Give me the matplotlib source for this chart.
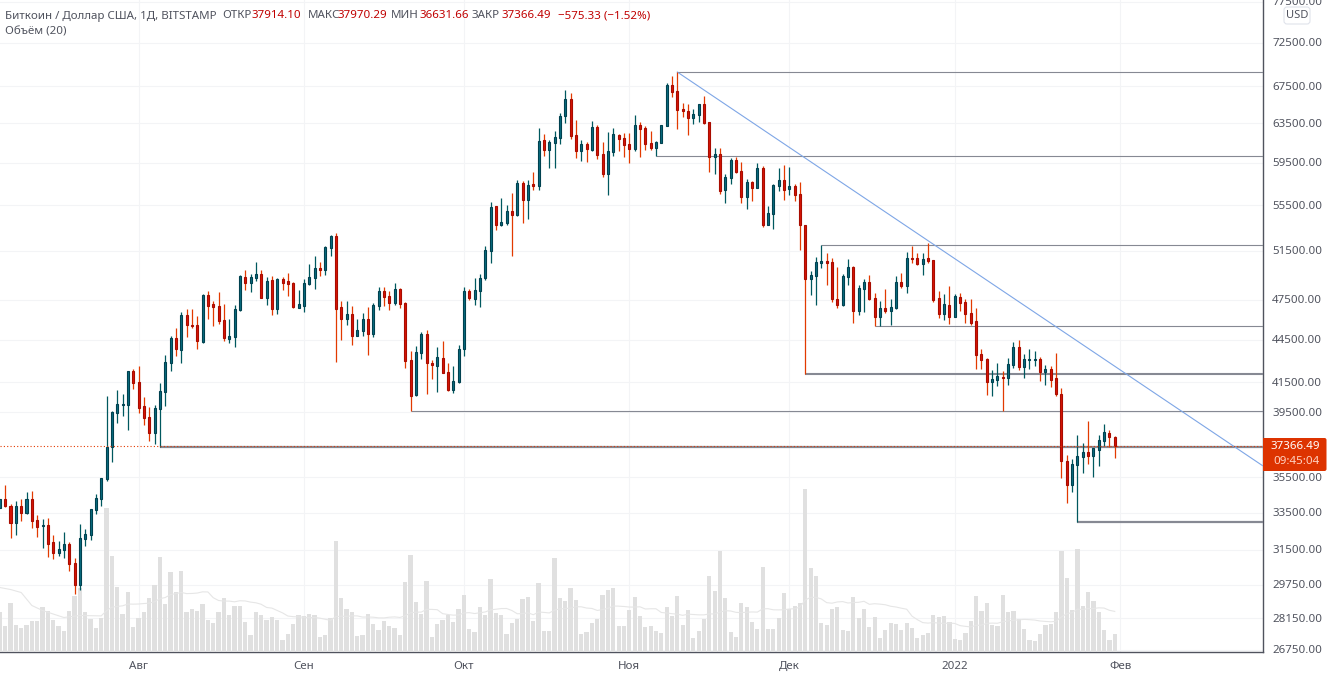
import matplotlib
matplotlib.use("Agg")
import matplotlib.pyplot as plt
from matplotlib.patches import FancyBboxPatch, Rectangle
from matplotlib.transforms import ScaledTranslation
import numpy as np
import pandas as pd

plt.rcParams["font.family"] = ["Noto Sans", "DejaVu Sans"]

# BTC/USD daily bars, Jul 6 2021 - Jan 31 2022
# x position is days since Aug 1
firstDay = -26

opens = [
    33670, 34170, 33800, 32850, 33800, 33430, 34170, 33030, 32690, 32740,
    31840, 31300, 31420, 31735, 30760, 29700, 32030, 32240, 33590, 34200,
    35345, 37220, 39360, 39920, 39920, 42170, 41410, 39810, 39095, 38085,
    39655, 40780, 42770, 44540, 43690, 46235, 45500, 45480, 44270, 47780,
    47100, 46920, 45877, 44490, 44640, 46660, 49215, 48780, 49180, 49460,
    47590, 48970, 46740, 49050, 48890, 48730, 46815, 46970, 48700, 49180,
    49945, 49830, 51665, 52670, 46850, 45975, 46310, 44710, 45080, 45930,
    44855, 46970, 48095, 47700, 47180, 48250, 47155, 42935, 40575, 43480,
    44810, 42750, 42540, 43100, 42120, 40890, 41430, 43720, 48115, 47510,
    48140, 49155, 51410, 55330, 53630, 53805, 54875, 54520, 57460, 55877,
    57365, 57180, 61667, 60662, 61365, 61870, 64150, 65965, 62180, 60560,
    61265, 60662, 63000, 60265, 58315, 60460, 62180, 61870, 61265, 60760,
    63210, 62895, 61365, 60860, 61365, 63105, 67500, 66840, 64890, 64680,
    63940, 64255, 65430, 63520, 59970, 60265, 56803, 57935, 59673, 58605,
    56155, 57555, 56990, 58895, 53630, 54610, 57180, 57744, 56895, 57180,
    56430, 53630, 49075, 49345, 50410, 50550, 50465, 47490, 47025, 49260,
    50050, 46560, 48300, 48830, 47565, 46105, 46790, 46560, 46790, 48830,
    48510, 50800, 50800, 50300, 50800, 50630, 47565, 46355, 47025, 46130,
    47645, 47255, 46410, 45800, 43385, 43030, 41430, 41569, 41775, 41710,
    42610, 43885, 42470, 42958, 42958, 43030, 42120, 42330, 41710, 40625,
    36390, 34985, 36150, 36630, 36930, 36690, 37053, 37605, 38100,
]
highs = [
    34170, 34980, 33910, 34075, 34170, 34585, 34640, 33300, 33080, 33135,
    32225, 31890, 32365, 31855, 31030, 32815, 32540, 33630, 34450, 35370,
    40490, 39505, 40890, 40630, 42190, 42330, 42540, 40425, 39765, 39900,
    41365, 43310, 44665, 45280, 46460, 46715, 46715, 46160, 47880, 48115,
    47330, 48040, 47100, 45950, 47025, 49400, 49805, 49480, 50465, 49805,
    49235, 49315, 49130, 49235, 49560, 48810, 48195, 49070, 50300, 50965,
    50465, 51810, 52725, 52900, 47330, 47330, 46945, 45950, 46410, 46870,
    47180, 48435, 48435, 48115, 48750, 48355, 47255, 43600, 43960, 44980,
    45129, 42958, 43885, 44320, 42750, 42540, 44030, 48435, 48275, 49155,
    49480, 51810, 55695, 55330, 56060, 55420, 56525, 57744, 57650, 57744,
    58510, 62895, 62280, 61667, 62585, 64465, 66947, 66620, 63727, 61667,
    61465, 63625, 63210, 61465, 62485, 62895, 62280, 62385, 62385, 64255,
    63520, 63105, 62585, 61565, 63210, 67720, 68510, 68960, 65535, 65430,
    64890, 65430, 66290, 63520, 60860, 60860, 58315, 59870, 59970, 59480,
    57840, 57650, 59380, 59090, 55330, 57365, 58895, 59190, 58990, 57365,
    57555, 53630, 49725, 50880, 51870, 51215, 50800, 50050, 49480, 50715,
    50135, 48595, 49075, 49400, 47960, 47330, 48275, 47490, 49315, 49560,
    51300, 51810, 51215, 51215, 52065, 50630, 48115, 47880, 48510, 47880,
    47960, 47490, 47490, 46790, 43740, 43100, 42258, 42750, 42190, 43100,
    44250, 44393, 43385, 43740, 43600, 43170, 42610, 42540, 43455, 41025,
    36750, 36510, 37975, 37480, 38860, 37175, 37975, 38670, 38291,
]
lows = [
    33670, 33755, 32080, 32240, 32975, 33340, 32610, 32130, 31560, 31090,
    30975, 31130, 31010, 30390, 29250, 29440, 31660, 31975, 33375, 33810,
    35230, 36350, 38755, 39205, 38310, 40980, 39395, 38630, 37625, 37440,
    37220, 39850, 42210, 43265, 42750, 44615, 45300, 43765, 44200, 45950,
    45430, 45580, 44320, 44175, 43890, 46585, 48195, 48040, 48910, 47540,
    47045, 46255, 46330, 48195, 47720, 46815, 46790, 46510, 48595, 48275,
    49315, 49400, 50965, 42815, 44390, 45500, 44030, 44690, 44690, 43315,
    44615, 46637, 46945, 46637, 47025, 46790, 42395, 39490, 40510, 43030,
    40625, 41640, 40760, 42050, 40825, 40690, 41365, 43245, 47409, 47025,
    46870, 48993, 50385, 53189, 53540, 53630, 50965, 54430, 53805, 54160,
    56803, 56803, 60070, 58895, 58895, 61265, 63415, 61770, 59870, 59575,
    59480, 60560, 59770, 58030, 56340, 60070, 60560, 59970, 59380, 60560,
    59970, 60662, 60662, 60070, 61365, 63105, 66185, 62790, 64045, 62180,
    63315, 63520, 63315, 58510, 58315, 56430, 55600, 57365, 58410, 55600,
    55055, 55785, 56990, 53450, 53630, 53280, 56710, 55877, 56340, 55785,
    51469, 41950, 47800, 47025, 49970, 48595, 47255, 46790, 46945, 48595,
    45650, 46255, 46485, 47409, 45430, 45430, 46410, 45500, 46715, 48355,
    47960, 50385, 50220, 49400, 50385, 47255, 46030, 45877, 45580, 46105,
    46560, 45650, 45500, 42330, 42330, 40555, 40490, 41160, 39505, 41230,
    42395, 42258, 41710, 42330, 42540, 41500, 41230, 41095, 40490, 35385,
    33965, 34585, 32935, 35680, 36210, 35445, 36090, 37300, 37260,
]
closes = [
    34170, 33810, 32850, 33800, 33430, 34170, 32990, 32670, 32740, 31770,
    31300, 31475, 31735, 30740, 29700, 32050, 32260, 33610, 34225, 35370,
    37220, 39420, 39945, 39985, 42170, 41385, 39720, 39070, 38085, 39680,
    40805, 42800, 44540, 43765, 46235, 45520, 45425, 44340, 47780, 46970,
    46870, 45825, 44560, 44665, 46690, 49295, 48780, 49215, 49460, 47590,
    48890, 46740, 49050, 48780, 48700, 46870, 47075, 48730, 49215, 49945,
    49805, 51700, 52670, 46740, 45975, 46310, 44710, 45105, 45930, 44855,
    47000, 48095, 47670, 47200, 48250, 47125, 42910, 40510, 43505, 44810,
    42770, 42610, 43170, 42070, 40890, 41500, 43720, 48115, 47565, 48195,
    49155, 51469, 55240, 53630, 53895, 54875, 54520, 57460, 55877, 57270,
    57180, 61565, 60662, 61465, 61970, 64150, 65965, 62075, 60560, 61265,
    60760, 63000, 60165, 58315, 60560, 62280, 61770, 61165, 60760, 63210,
    62790, 61265, 60860, 61465, 63210, 67500, 66730, 64783, 64680, 63940,
    64360, 65430, 63415, 59970, 60265, 56710, 58030, 59673, 58510, 56155,
    57555, 56990, 58895, 53630, 54695, 57270, 57744, 56803, 57180, 56340,
    53630, 49075, 49400, 50465, 50550, 50385, 47490, 47025, 49315, 50050,
    46560, 48355, 48830, 47490, 46105, 46790, 46560, 46870, 48830, 48510,
    50800, 50715, 50300, 50715, 50550, 47409, 46355, 47100, 46105, 47720,
    47180, 46330, 45650, 43315, 42958, 41430, 41640, 41845, 41710, 42680,
    43885, 42490, 43030, 43050, 43050, 42120, 42330, 41569, 40625, 36405,
    34985, 36210, 36690, 36930, 36690, 37175, 37667, 38165, 37850,
]
# the read-offs above ran about 0.2% low against the price grid
readFix = 1.00214
# last bar comes straight from the title
lastBar = [37914.10, 37970.29, 36631.66, 37366.49]

volumes = [
    40, 26, 49, 27, 24, 27, 31, 31, 45, 41,
    32, 26, 21, 41, 56, 64, 40, 33, 24, 34,
    144, 96, 65, 38, 60, 25, 34, 40, 54, 67,
    95, 48, 80, 60, 81, 40, 43, 41, 48, 32,
    29, 40, 54, 37, 46, 46, 30, 17, 40, 37,
    32, 35, 32, 12, 18, 28, 37, 36, 38, 37,
    15, 17, 34, 111, 54, 43, 40, 16, 17, 38,
    28, 22, 31, 26, 24, 17, 70, 97, 50, 38,
    71, 15, 28, 32, 37, 30, 43, 57, 23, 20,
    45, 37, 73, 39, 37, 18, 29, 33, 53, 55,
    31, 69, 21, 21, 94, 54, 51, 64, 52, 18,
    20, 29, 33, 57, 62, 64, 26, 26, 42, 55,
    36, 25, 26, 21, 19, 45, 36, 56, 27, 42,
    14, 21, 33, 76, 61, 101, 54, 20, 15, 49,
    45, 30, 23, 85, 23, 23, 34, 59, 43, 46,
    49, 163, 84, 76, 29, 27, 43, 45, 22, 21,
    55, 34, 43, 25, 35, 14, 22, 29, 28, 22,
    29, 24, 14, 17, 19, 37, 35, 36, 30, 13,
    12, 19, 31, 56, 41, 49, 27, 26, 57, 40,
    41, 33, 23, 12, 11, 18, 27, 28, 40, 101,
    74, 42, 103, 46, 60, 51, 40, 22, 12, 18,
]
# volume MA before 20 bars are on screen
maHeadDays = [-26, -24, -22, -20, -18, -14, -11]
maHeadVals = [64, 62, 59, 46, 41, 34, 36]

priceTicks = [77500, 72500, 67500, 63500, 59500, 55500, 51500, 47500, 44500, 41500,
              39500, 35500, 33500, 31500, 29750, 28150, 26750]
monthDays = [0, 31, 61, 92, 122, 153, 184]
monthLabels = ["Авг", "Сен", "Окт", "Ноя", "Дек", "2022", "Фев"]

# drawn levels: start day, price, line width
levelDays = [101, 97, 128, 138, 125, 51, 4, 176]
levelPrices = [69100, 60170, 51980, 45530, 42040, 39585, 37334, 33005]
levelWidths = [0.8, 0.8, 0.8, 0.8, 1.5, 0.8, 1.6, 1.6]
trendDays = [101, 210.7]
trendPrices = [69100, 36190]

O = np.append(np.array(opens) * readFix, lastBar[0])
H = np.append(np.array(highs) * readFix, lastBar[1])
L = np.append(np.array(lows) * readFix, lastBar[2])
C = np.append(np.array(closes) * readFix, lastBar[3])
days = np.arange(firstDay, firstDay + len(O))
up = C >= O

vol = pd.Series(volumes, index=days)
volMa = vol.rolling(20).mean().dropna()
maX = maHeadDays + list(volMa.index)
maY = maHeadVals + list(volMa.values)

W, Hpx = 1330, 678
axisX, axisY = 1262.5, 651.5
rect = [0, (Hpx - axisY) / Hpx, axisX / W, axisY / Hpx]
xlim = (-25.97, 210.7)
ylim = (26664, 77786)
textCol = "#50535e"
fontSize = 8.3

fig = plt.figure(figsize=(W / 100, Hpx / 100), dpi=100, facecolor="white")

# grid and axis labels at the bottom
ax = fig.add_axes(rect, zorder=1)
ax.set_yscale("log")
ax.set_xlim(xlim)
ax.set_ylim(ylim)
ax.yaxis.tick_right()
ax.set_yticks(priceTicks)
ax.set_yticklabels(["%.2f" % p for p in priceTicks])
ax.minorticks_off()
ax.set_xticks(monthDays)
ax.set_xticklabels(monthLabels)
ax.get_xticklabels()[5].set_fontweight("bold")
ax.tick_params(axis="y", length=0, pad=7, labelsize=fontSize, labelcolor=textCol)
ax.tick_params(axis="x", length=0, pad=6.5, labelsize=fontSize, labelcolor=textCol)
# labels sit a little above their grid lines
upShift = ScaledTranslation(0, 0.8 / 100, fig.dpi_scale_trans)
for lab in ax.get_yticklabels():
    lab.set_transform(lab.get_transform() + upShift)
ax.grid(True, color="#f3f4f6", linewidth=0.75)
ax.set_axisbelow(True)
for s in ["top", "left"]:
    ax.spines[s].set_visible(False)
for s in ["right", "bottom"]:
    ax.spines[s].set_color(textCol)
    ax.spines[s].set_linewidth(1.0)

# volume
axVol = fig.add_axes(rect, zorder=2)
axVol.patch.set_visible(False)
axVol.set_xlim(xlim)
axVol.set_ylim(0, axisY)
axVol.axis("off")
axVol.bar(days, volumes, width=0.8, color="#e0e0e0", linewidth=0)
axVol.plot(maX, maY, color="#e6e6e6", linewidth=0.8)

# candles and drawings on top
axC = fig.add_axes(rect, zorder=3)
axC.patch.set_visible(False)
axC.set_yscale("log")
axC.set_xlim(xlim)
axC.set_ylim(ylim)
axC.axis("off")

for d, p, w in zip(levelDays, levelPrices, levelWidths):
    axC.plot([d, xlim[1]], [p, p], color="#868993", linewidth=w, zorder=1, solid_capstyle="butt")
axC.plot(trendDays, trendPrices, color="#7ea6e6", linewidth=0.8, zorder=1)

axC.vlines(days[up], L[up], H[up], color="#00585f", linewidth=0.9, zorder=2)
axC.vlines(days[~up], L[~up], H[~up], color="#e23a00", linewidth=0.9, zorder=2)
axC.bar(days[up], (C - O)[up], bottom=O[up], width=0.38, color="#0a6c80",
        edgecolor="#00414f", linewidth=0.8, zorder=3)
axC.bar(days[~up], (O - C)[~up], bottom=C[~up], width=0.38, color="#d81405",
        edgecolor="#a80c00", linewidth=0.8, zorder=3)
axC.plot(xlim, [lastBar[3], lastBar[3]], color="#e23a00", linewidth=0.8,
         linestyle=(0, (1, 2)), zorder=4)

# title, badge and currency box, placed in pixels
top = fig.add_axes([0, 0, 1, 1], zorder=4)
top.patch.set_visible(False)
top.set_xlim(0, W)
top.set_ylim(Hpx, 0)
top.axis("off")

red = "#c00000"
head = [
    (5, "Биткоин / Доллар США, 1Д, BITSTAMP", textCol),
    (222, "ОТКР", textCol), (252, "37914.10", red),
    (308, "МАКС", textCol), (338, "37970.29", red),
    (391, "МИН", textCol), (419, "36631.66", red),
    (472, "ЗАКР", textCol), (501, "37366.49", red),
    (558, "−575.33 (−1.52%)", red),
]
for x, s, c in head:
    top.text(x, 16, s, color=c, fontsize=fontSize, va="center", ha="left")
top.text(5, 32, "Объём (20)", color=textCol, fontsize=fontSize, va="center", ha="left")

top.add_patch(Rectangle((1263, 438), 60, 33, facecolor="#dd3300", edgecolor="none"))
top.add_patch(FancyBboxPatch((1300, 438), 26.5, 33, boxstyle="round,pad=0,rounding_size=2",
                             facecolor="#dd3300", edgecolor="none"))
top.text(1320, 446.5, "37366.49", color="white", fontsize=fontSize, va="center", ha="right")
top.text(1320, 461, "09:45:04", color="#ffd2c2", fontsize=fontSize, va="center", ha="right")

top.add_patch(FancyBboxPatch((1284, 7), 26, 17, boxstyle="round,pad=0,rounding_size=3",
                             facecolor="white", edgecolor="#e0e3eb", linewidth=0.8))
top.text(1297, 15.5, "USD", color=textCol, fontsize=8, fontweight="bold", va="center", ha="center")

fig.savefig("out.png", dpi=100, facecolor="white")
